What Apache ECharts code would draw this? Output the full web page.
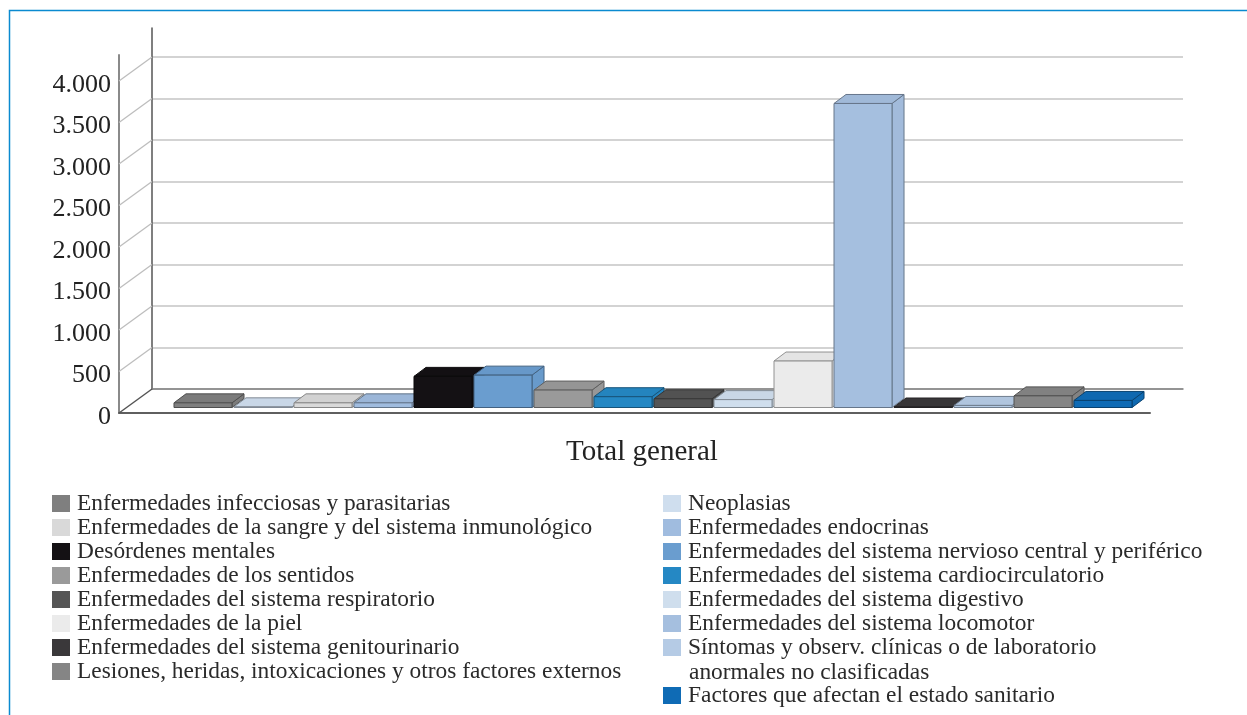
<!DOCTYPE html>
<html>
<head>
<meta charset="utf-8">
<style>
  html, body { margin: 0; padding: 0; background: #fff; }
  #chart { width: 1247px; height: 715px; }
</style>
<script src="https://cdn.jsdelivr.net/npm/echarts@6/dist/echarts.min.js"></script>
</head>
<body>
<div id="chart"></div>
<script>
// bar order, left to right
const causes = [
  'Enfermedades infecciosas y parasitarias',
  'Neoplasias',
  'Enfermedades de la sangre y del sistema inmunológico',
  'Enfermedades endocrinas',
  'Desórdenes mentales',
  'Enfermedades del sistema nervioso central y periférico',
  'Enfermedades de los sentidos',
  'Enfermedades del sistema cardiocirculatorio',
  'Enfermedades del sistema respiratorio',
  'Enfermedades del sistema digestivo',
  'Enfermedades de la piel',
  'Enfermedades del sistema locomotor',
  'Enfermedades del sistema genitourinario',
  'Síntomas y observ. clínicas o de laboratorio',
  'Lesiones, heridas, intoxicaciones y otros factores externos',
  'Factores que afectan el estado sanitario',
];
const totals = [56, 8, 56, 56, 375, 390, 210, 130, 105, 95, 560, 3663, 6, 25, 140, 85];
const colors = [
  '#7f7f7f', '#cfdeee', '#d9d9d9', '#a0bcdf',
  '#141114', '#6a9dcf', '#9a9a9a', '#2588c4',
  '#555555', '#cfdeed', '#ebebeb', '#a5bfdf',
  '#3a383a', '#b5cbe5', '#858585', '#0f6bb5',
];
const yTicks = [0, 500, 1000, 1500, 2000, 2500, 3000, 3500, 4000];

const FONT = '"Liberation Serif", serif';
const PX_PER_UNIT = 0.083;   // vertical px for one patient
const FRONT = { left: 119, top: 55, bottom: 413, right: 1150 };
const BACK = { left: 152, top: 28, bottom: 389, right: 1183 };
const WALL_DX = BACK.left - FRONT.left;
const WALL_DY = BACK.bottom - FRONT.bottom;
const BAR_LIFT = 5.5;        // bars stand a little behind the front edge
const DEPTH_X = 12;
const DEPTH_Y = 9;
const X_MIN = -1.4;
const X_MAX = 15.783;

function shade(hex, k) {
  const n = parseInt(hex.slice(1), 16);
  const c = [n >> 16, (n >> 8) & 255, n & 255].map((v) => Math.round(v * k));
  return 'rgb(' + c.join(',') + ')';
}

function renderBar(params, api) {
  const color = colors[params.seriesIndex - 1];
  const stroke = shade(color, 0.62);
  const base = api.coord([api.value(0), 0]);
  const top = api.coord([api.value(0), api.value(1)]);
  const w = api.size([0.967, 0])[0];
  const x0 = base[0] - w / 2;
  const x1 = base[0] + w / 2;
  const y0 = base[1] - BAR_LIFT;
  const y1 = top[1] - BAR_LIFT;
  const line = { stroke, lineWidth: 1, lineJoin: 'round' };
  const face = (points, fill) => ({
    type: 'polygon',
    shape: { points },
    style: Object.assign({ fill }, line),
  });
  return {
    type: 'group',
    children: [
      face([[x1, y0], [x1 + DEPTH_X, y0 - DEPTH_Y], [x1 + DEPTH_X, y1 - DEPTH_Y], [x1, y1]], shade(color, 0.98)),
      face([[x0, y1], [x0 + DEPTH_X, y1 - DEPTH_Y], [x1 + DEPTH_X, y1 - DEPTH_Y], [x1, y1]], shade(color, 0.97)),
      face([[x0, y0], [x1, y0], [x1, y1], [x0, y1]], color),
    ],
  };
}

function renderWallLine(params, api) {
  const v = api.value(0);
  const start = api.coord([X_MIN, v]);
  return {
    type: 'line',
    shape: { x1: start[0], y1: start[1], x2: start[0] + WALL_DX, y2: start[1] + WALL_DY },
    style: { stroke: v === 0 ? '#555555' : '#bdbdbd', lineWidth: v === 0 ? 1.5 : 1.2 },
  };
}

const legendBase = {
  orient: 'vertical',
  icon: 'rect',
  itemWidth: 18,
  itemHeight: 17,
  itemGap: 1,
  selectedMode: false,
  padding: 0,
  // top-aligned text sits a little below the icon's middle, as in the source
  textStyle: { fontFamily: FONT, fontSize: 23.4, verticalAlign: 'top', lineHeight: 11, color: '#2a2a2a', padding: [0, 0, 0, 2] },
};

const chart = echarts.init(document.getElementById('chart'), undefined, { renderer: 'canvas' });
chart.setOption({
  animation: false,
  backgroundColor: '#ffffff',
  grid: [
    { left: FRONT.left, top: FRONT.top, width: FRONT.right - FRONT.left, height: FRONT.bottom - FRONT.top },
    { left: BACK.left, top: BACK.top, width: BACK.right - BACK.left, height: BACK.bottom - BACK.top },
  ],
  xAxis: [
    {
      type: 'value',
      gridIndex: 0,
      min: X_MIN,
      max: X_MAX,
      splitLine: { show: false },
      axisTick: { show: false },
      axisLabel: { show: false },
      axisLine: { onZero: false, lineStyle: { color: '#5f5f5f', width: 2 } },
      name: 'Total general',
      nameLocation: 'middle',
      nameGap: 25,
      nameTextStyle: { fontFamily: FONT, fontSize: 29, color: '#222222', padding: [0, 0, 0, 15] },
    },
    {
      type: 'value',
      gridIndex: 1,
      min: 0,
      max: 1,
      splitLine: { show: false },
      axisTick: { show: false },
      axisLabel: { show: false },
      axisLine: { onZero: false, lineStyle: { color: '#808080', width: 1.5 } },
    },
  ],
  yAxis: [
    {
      type: 'value',
      gridIndex: 0,
      min: 0,
      max: (FRONT.bottom - FRONT.top) / PX_PER_UNIT,
      interval: 500,
      splitLine: { show: false },
      axisTick: { show: false },
      axisLine: { show: true, onZero: false, lineStyle: { color: '#8a8a8a', width: 2 } },
      axisLabel: {
        margin: 8,
        showMaxLabel: false,
        verticalAlign: 'top',
        lineHeight: 8,
        fontFamily: FONT,
        fontSize: 26,
        color: '#222222',
        formatter: (v) => (yTicks.includes(v) ? v.toLocaleString('de-DE') : ''),
      },
    },
    {
      type: 'value',
      gridIndex: 1,
      min: 0,
      max: (BACK.bottom - BACK.top) / PX_PER_UNIT,
      interval: 500,
      splitLine: { show: true, showMaxLine: false, lineStyle: { color: '#c4c4c4', width: 1.5 } },
      axisTick: { show: false },
      axisLabel: { show: false },
      axisLine: { show: true, onZero: false, lineStyle: { color: '#555555', width: 1.5 } },
    },
  ],
  legend: [
    Object.assign({}, legendBase, {
      left: 52, top: 492,
      data: [0, 2, 4, 6, 8, 10, 12, 14].map((i) => causes[i]),
    }),
    Object.assign({}, legendBase, {
      left: 663, top: 492,
      data: [1, 3, 5, 7, 9, 11, 13].map((i) => causes[i]),
    }),
    Object.assign({}, legendBase, {
      left: 663, top: 684,
      data: [causes[15]],
    }),
  ],
  graphic: [
    {
      type: 'polyline',
      silent: true,
      shape: { points: [[9.5, 715], [9.5, 10.5], [1247, 10.5]] },
      style: { stroke: '#0a8ad0', lineWidth: 1.5, fill: 'none' },
    },
    {
      type: 'text',
      left: 689,
      top: 661,
      style: { text: 'anormales no clasificadas', font: '23.4px ' + FONT, fill: '#2a2a2a' },
    },
  ],
  series: [
    {
      type: 'custom',
      name: 'wall',
      xAxisIndex: 0,
      yAxisIndex: 0,
      silent: true,
      clip: false,
      z: 1,
      data: yTicks.map((v) => [v]),
      encode: { y: 0 },
      renderItem: renderWallLine,
    },
  ].concat(causes.map((name, i) => ({
    type: 'custom',
    name,
    xAxisIndex: 0,
    yAxisIndex: 0,
    clip: false,
    z: 3,
    itemStyle: { color: colors[i] },
    encode: { x: 0, y: 1 },
    data: [[i, totals[i]]],
    renderItem: renderBar,
  }))),
});
</script>
</body>
</html>
